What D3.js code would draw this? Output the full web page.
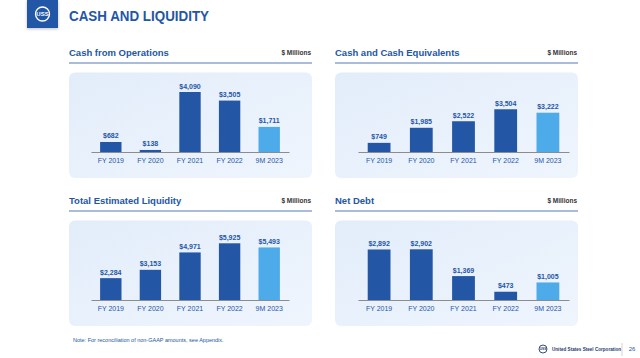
<!DOCTYPE html>
<html>
<head>
<meta charset="utf-8">
<script src="https://cdn.jsdelivr.net/npm/d3@7"></script>
<style>
  body { margin: 0; background: #fff; }
  svg { display: block; font-family: "Liberation Sans", Arial, sans-serif; }
</style>
</head>
<body>
<div class="chart"></div>
<script>
var categories = ["FY 2019", "FY 2020", "FY 2021", "FY 2022", "9M 2023"];
var cashFromOps = [682, 138, 4090, 3505, 1711];
var cashEquivalents = [749, 1985, 2522, 3504, 3222];
var totalLiquidity = [2284, 3153, 4971, 5925, 5493];
var netDebt = [2892, 2902, 1369, 473, 1005];
var panelTitles = ["Cash from Operations", "Cash and Cash Equivalents", "Total Estimated Liquidity", "Net Debt"];

var svgWidth = 640;
var svgHeight = 358;
var blue = "#2456a6";
var lightBlue = "#4dabea";

var svg = d3.select(".chart")
  .append("svg")
  .attr("width", svgWidth)
  .attr("height", svgHeight);

var defs = svg.append("defs");
var grad = defs.append("linearGradient")
  .attr("id", "panelGrad")
  .attr("x1", "0").attr("y1", "0").attr("x2", "1").attr("y2", "1");
grad.append("stop").attr("offset", "0%").attr("stop-color", "#e2edfa");
grad.append("stop").attr("offset", "100%").attr("stop-color", "#eff5fd");

var shadow = defs.append("filter").attr("id", "shadow")
  .attr("x", "-30%").attr("y", "-30%").attr("width", "160%").attr("height", "160%");
shadow.append("feDropShadow")
  .attr("dx", 0).attr("dy", 1).attr("stdDeviation", 1.5)
  .attr("flood-color", "#000").attr("flood-opacity", 0.25);

// header
svg.append("rect")
  .attr("x", 27).attr("y", 0).attr("width", 31).attr("height", 28)
  .attr("fill", blue)
  .attr("filter", "url(#shadow)");
svg.append("circle")
  .attr("cx", 42.5).attr("cy", 14).attr("r", 7)
  .attr("fill", "none").attr("stroke", "#fff").attr("stroke-width", 1.3);
svg.append("text")
  .attr("x", 42.5).attr("y", 16.2)
  .attr("text-anchor", "middle")
  .attr("font-size", 6).attr("font-weight", "bold")
  .attr("fill", "#fff")
  .text("USS");

svg.append("text")
  .attr("x", 69).attr("y", 20.5)
  .attr("font-size", 14.5).attr("font-weight", "bold")
  .attr("textLength", 140).attr("lengthAdjust", "spacingAndGlyphs")
  .attr("fill", blue)
  .text("CASH AND LIQUIDITY");

var panels = [
  { title: panelTitles[0], values: cashFromOps, x0: 69, x1: 312, top: 40, axis: [91, 289], yMax: 4090 },
  { title: panelTitles[1], values: cashEquivalents, x0: 335, x1: 578, top: 40, axis: [358, 569], yMax: 4920 },
  { title: panelTitles[2], values: totalLiquidity, x0: 69, x1: 312, top: 188, axis: [91, 289], yMax: 6270 },
  { title: panelTitles[3], values: netDebt, x0: 335, x1: 578, top: 188, axis: [358, 569], yMax: 3435 }
];

panels.forEach(function(p) {
  var g = svg.append("g");
  var top = p.top;

  g.append("text")
    .attr("x", p.x0).attr("y", top + 15.5)
    .attr("font-size", 9.5).attr("font-weight", "bold")
    .attr("fill", blue)
    .text(p.title);

  g.append("text")
    .attr("x", p.x1 - 1).attr("y", top + 15)
    .attr("text-anchor", "end")
    .attr("font-size", 6.5).attr("font-weight", "bold")
    .attr("fill", "#333")
    .text("$ Millions");

  g.append("line")
    .attr("x1", p.x0).attr("x2", p.x1)
    .attr("y1", top + 23).attr("y2", top + 23)
    .attr("stroke", "#8ea6cf").attr("stroke-width", 1.5);

  g.append("rect")
    .attr("x", p.x0).attr("y", top + 32.5)
    .attr("width", p.x1 - p.x0).attr("height", 105.5)
    .attr("rx", 6)
    .attr("fill", "url(#panelGrad)");

  var baseline = top + 112;

  var xScale = d3.scaleBand()
    .domain(categories)
    .range(p.axis)
    .paddingInner(0.46)
    .paddingOuter(0.23);

  var yScale = d3.scaleLinear()
    .domain([0, p.yMax])
    .range([baseline, baseline - 60]);

  var rows = categories.map(function(c, i) { return { cat: c, value: p.values[i], last: i === categories.length - 1 }; });

  g.selectAll(".bar")
    .data(rows)
    .enter()
    .append("rect")
    .attr("class", "bar")
    .attr("x", d => xScale(d.cat))
    .attr("y", d => yScale(d.value))
    .attr("width", xScale.bandwidth())
    .attr("height", d => baseline - yScale(d.value))
    .attr("fill", d => d.last ? lightBlue : blue);

  g.selectAll(".val")
    .data(rows)
    .enter()
    .append("text")
    .attr("class", "val")
    .attr("x", d => xScale(d.cat) + xScale.bandwidth() / 2)
    .attr("y", d => yScale(d.value) - 3.5)
    .attr("text-anchor", "middle")
    .attr("font-size", 7).attr("font-weight", "bold")
    .attr("fill", blue)
    .text(d => "$" + d3.format(",")(d.value));

  var bottomAxis = d3.axisBottom(xScale).tickSize(0).tickPadding(6);
  var axisG = g.append("g")
    .attr("transform", `translate(0, ${baseline})`)
    .call(bottomAxis);
  axisG.select(".domain")
    .attr("stroke", "#8c8c8c").attr("stroke-width", 1.2);
  axisG.selectAll("text")
    .attr("font-size", 7)
    .attr("font-family", "Liberation Sans, Arial, sans-serif")
    .attr("fill", blue);
});

// footer
svg.append("text")
  .attr("x", 73).attr("y", 342)
  .attr("font-size", 5.5)
  .attr("fill", blue)
  .text("Note: For reconciliation of non-GAAP amounts, see Appendix.");

svg.append("circle")
  .attr("cx", 543).attr("cy", 349).attr("r", 4)
  .attr("fill", "none").attr("stroke", "#1f3b70").attr("stroke-width", 0.9);
svg.append("text")
  .attr("x", 543).attr("y", 350.3)
  .attr("text-anchor", "middle")
  .attr("font-size", 3.2).attr("font-weight", "bold")
  .attr("fill", "#1f3b70")
  .text("USS");
svg.append("text")
  .attr("x", 552).attr("y", 350.8)
  .attr("font-size", 4.6).attr("font-weight", "bold")
  .attr("fill", "#1f3b70")
  .text("United States Steel Corporation");
svg.append("line")
  .attr("x1", 622).attr("x2", 622)
  .attr("y1", 343).attr("y2", 356)
  .attr("stroke", "#c8c8c8").attr("stroke-width", 0.8);
svg.append("text")
  .attr("x", 632).attr("y", 351)
  .attr("text-anchor", "middle")
  .attr("font-size", 6)
  .attr("fill", blue)
  .text("26");
</script>
</body>
</html>
